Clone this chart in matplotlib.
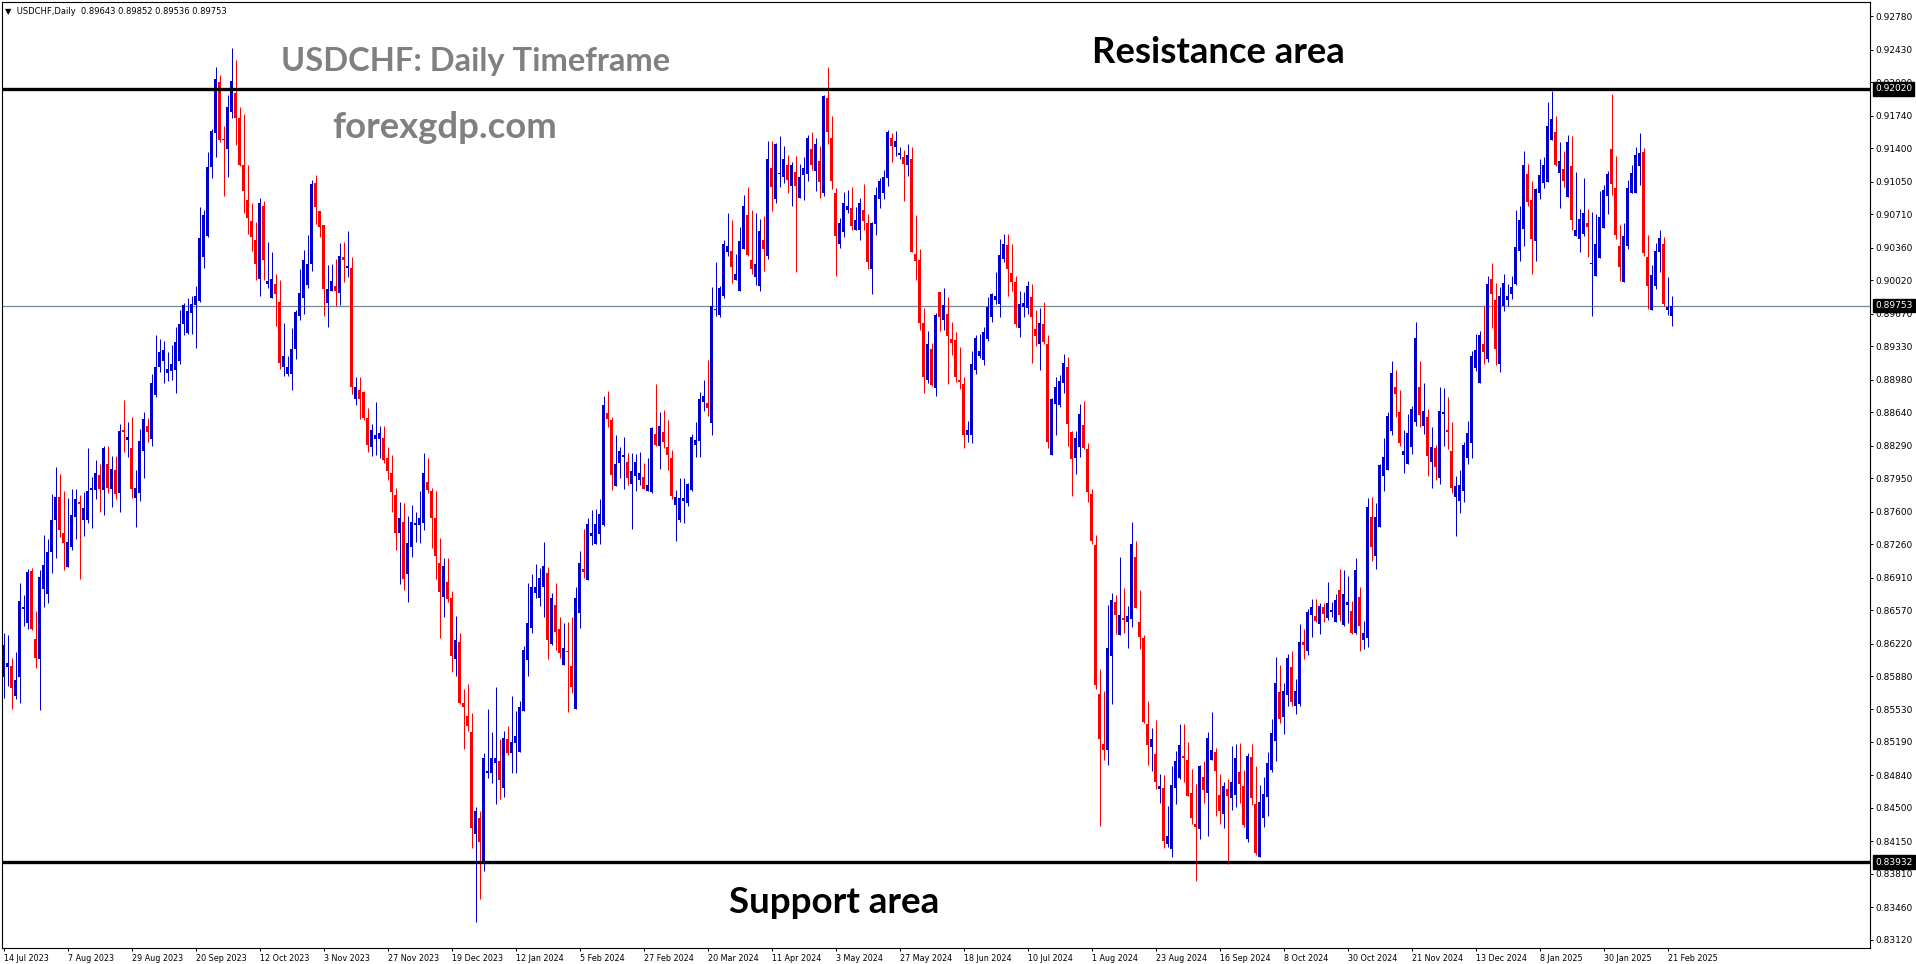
import numpy as np
import matplotlib
matplotlib.use("Agg")
import matplotlib.pyplot as plt
from matplotlib.transforms import blended_transform_factory, offset_copy

# USDCHF daily candles, 14 Jul 2023 .. 24 Feb 2025
opens = [
    0.8587, 0.8597, 0.8598, 0.8567, 0.8587, 0.8658, 0.8643, 0.8698, 0.8627, 0.8606,
    0.8679, 0.8674, 0.8718, 0.8751, 0.8775, 0.8738, 0.8702, 0.8723, 0.8754, 0.8770,
    0.8751, 0.8751, 0.8783, 0.8783, 0.8798, 0.8783, 0.8810, 0.8784, 0.8804, 0.8779,
    0.8845, 0.8835, 0.8827, 0.8774, 0.8779, 0.8823, 0.8849, 0.8836, 0.8882, 0.8911,
    0.8917, 0.8905, 0.8907, 0.8908, 0.8917, 0.8956, 0.8947, 0.8968, 0.8976, 0.8980,
    0.9026, 0.9048, 0.9120, 0.9156, 0.9209, 0.9150, 0.9139, 0.9178, 0.9198, 0.9172,
    0.9123, 0.9086, 0.9064, 0.9044, 0.9003, 0.9080, 0.8998, 0.8983, 0.8998, 0.8979,
    0.8911, 0.8904, 0.8904, 0.8930, 0.8965, 0.8983, 0.8997, 0.9019, 0.9104, 0.9074,
    0.9060, 0.8978, 0.8991, 0.8996, 0.8989, 0.9026, 0.9015, 0.9015, 0.8878, 0.8887,
    0.8885, 0.8858, 0.8828, 0.8836, 0.8836, 0.8837, 0.8816, 0.8800, 0.8777, 0.8738,
    0.8749, 0.8695, 0.8723, 0.8746, 0.8746, 0.8748, 0.8791, 0.8781, 0.8753, 0.8706,
    0.8671, 0.8686, 0.8670, 0.8606, 0.8624, 0.8560, 0.8546, 0.8529, 0.8423, 0.8440,
    0.8395, 0.8487, 0.8487, 0.8497, 0.8499, 0.8471, 0.8522, 0.8507, 0.8518, 0.8508,
    0.8551, 0.8605, 0.8638, 0.8675, 0.8670, 0.8681, 0.8696, 0.8622, 0.8662, 0.8637,
    0.8600, 0.8614, 0.8598, 0.8554, 0.8654, 0.8700, 0.8688, 0.8734, 0.8726, 0.8737,
    0.8746, 0.8863, 0.8856, 0.8787, 0.8811, 0.8817, 0.8812, 0.8789, 0.8797, 0.8793,
    0.8796, 0.8781, 0.8780, 0.8841, 0.8829, 0.8843, 0.8828, 0.8816, 0.8767, 0.8751,
    0.8771, 0.8769, 0.8783, 0.8830, 0.8834, 0.8875, 0.8874, 0.8853, 0.8971, 0.8966,
    0.8986, 0.9032, 0.9033, 0.9002, 0.8991, 0.9035, 0.9070, 0.9023, 0.9005, 0.8996,
    0.9044, 0.9027, 0.9119, 0.9087, 0.9113, 0.9110, 0.9122, 0.9101, 0.9115, 0.9088,
    0.9112, 0.9113, 0.9139, 0.9116, 0.9127, 0.9093, 0.9193, 0.9151, 0.9093, 0.9040,
    0.9052, 0.9075, 0.9078, 0.9054, 0.9054, 0.9075, 0.9062, 0.9014, 0.9061, 0.9087,
    0.9093, 0.9109, 0.9151, 0.9141, 0.9133, 0.9131, 0.9122, 0.9129, 0.9029, 0.9023,
    0.8957, 0.8898, 0.8930, 0.8889, 0.8990, 0.8960, 0.8967, 0.8940, 0.8939, 0.8898,
    0.8893, 0.8840, 0.8840, 0.8908, 0.8923, 0.8919, 0.8940, 0.8963, 0.8981, 0.8977,
    0.9024, 0.9039, 0.9010, 0.9000, 0.8952, 0.8974, 0.8973, 0.8984, 0.8951, 0.8935,
    0.8956, 0.8935, 0.8819, 0.8872, 0.8871, 0.8894, 0.8911, 0.8843, 0.8816, 0.8828,
    0.8851, 0.8825, 0.8778, 0.8725, 0.8569, 0.8517, 0.8511, 0.8609, 0.8665, 0.8631,
    0.8649, 0.8645, 0.8648, 0.8712, 0.8644, 0.8628, 0.8538, 0.8514, 0.8506, 0.8470,
    0.8471, 0.8412, 0.8407, 0.8471, 0.8481, 0.8504, 0.8500, 0.8466, 0.8433, 0.8428,
    0.8482, 0.8466, 0.8500, 0.8509, 0.8464, 0.8444, 0.8470, 0.8460, 0.8464, 0.8488,
    0.8473, 0.8417, 0.8503, 0.8454, 0.8399, 0.8440, 0.8461, 0.8490, 0.8520, 0.8571,
    0.8545, 0.8568, 0.8597, 0.8557, 0.8559, 0.8624, 0.8614, 0.8652, 0.8651, 0.8642,
    0.8660, 0.8649, 0.8655, 0.8645, 0.8678, 0.8641, 0.8662, 0.8656, 0.8633, 0.8671,
    0.8626, 0.8628, 0.8754, 0.8714, 0.8744, 0.8797, 0.8803, 0.8844, 0.8890, 0.8864,
    0.8819, 0.8810, 0.8828, 0.8854, 0.8890, 0.8849, 0.8859, 0.8812, 0.8827, 0.8795,
    0.8862, 0.8845, 0.8823, 0.8775, 0.8771, 0.8782, 0.8816, 0.8832, 0.8910, 0.8895,
    0.8935, 0.8920, 0.9003, 0.8981, 0.8914, 0.8975, 0.8981, 0.8988, 0.8998, 0.9033,
    0.9056, 0.9113, 0.9086, 0.9043, 0.9093, 0.9104, 0.9105, 0.9149, 0.9157, 0.9114,
    0.9118, 0.9089, 0.9121, 0.9048, 0.9045, 0.9050, 0.9062, 0.9019, 0.9006, 0.9025,
    0.9057, 0.9090, 0.9139, 0.9098, 0.9038, 0.9000, 0.9038, 0.9093, 0.9093, 0.9121,
    0.9136, 0.9026, 0.8971, 0.8996, 0.9032, 0.9040, 0.8971, 0.89643,
]
highs = [
    0.8633, 0.8631, 0.8607, 0.8613, 0.8685, 0.8673, 0.8700, 0.8701, 0.8656, 0.8699,
    0.8736, 0.8731, 0.8778, 0.8807, 0.8799, 0.8782, 0.8774, 0.8784, 0.8784, 0.8777,
    0.8780, 0.8827, 0.8796, 0.8814, 0.8810, 0.8829, 0.8829, 0.8818, 0.8818, 0.8852,
    0.8877, 0.8854, 0.8859, 0.8803, 0.8846, 0.8864, 0.8858, 0.8904, 0.8945, 0.8940,
    0.8938, 0.8927, 0.8934, 0.8953, 0.8971, 0.8978, 0.8983, 0.8985, 0.8996, 0.9079,
    0.9075, 0.9136, 0.9160, 0.9225, 0.9217, 0.9163, 0.9196, 0.9245, 0.9232, 0.9183,
    0.9176, 0.9123, 0.9083, 0.9063, 0.9088, 0.9085, 0.9042, 0.9032, 0.9008, 0.9002,
    0.8957, 0.8923, 0.8952, 0.8971, 0.9014, 0.9034, 0.9049, 0.9107, 0.9112, 0.9074,
    0.9060, 0.9018, 0.9019, 0.9024, 0.9041, 0.9042, 0.9053, 0.9026, 0.8901, 0.8901,
    0.8886, 0.8868, 0.8852, 0.8875, 0.8850, 0.8850, 0.8828, 0.8819, 0.8785, 0.8770,
    0.8769, 0.8755, 0.8767, 0.8760, 0.8782, 0.8821, 0.8816, 0.8785, 0.8781, 0.8732,
    0.8711, 0.8711, 0.8677, 0.8651, 0.8633, 0.8574, 0.8580, 0.8549, 0.8451, 0.8447,
    0.8507, 0.8554, 0.8529, 0.8577, 0.8522, 0.8531, 0.8536, 0.8567, 0.8551, 0.8562,
    0.8619, 0.8685, 0.8695, 0.8705, 0.8701, 0.8728, 0.8702, 0.8675, 0.8685, 0.8650,
    0.8643, 0.8644, 0.8650, 0.8681, 0.8719, 0.8742, 0.8753, 0.8762, 0.8763, 0.8773,
    0.8881, 0.8886, 0.8859, 0.8840, 0.8828, 0.8838, 0.8821, 0.8821, 0.8820, 0.8822,
    0.8811, 0.8816, 0.8848, 0.8893, 0.8864, 0.8866, 0.8856, 0.8824, 0.8783, 0.8795,
    0.8795, 0.8790, 0.8841, 0.8854, 0.8885, 0.8898, 0.8919, 0.8995, 0.9021, 0.8996,
    0.9044, 0.9072, 0.9065, 0.9029, 0.9058, 0.9091, 0.9100, 0.9075, 0.9072, 0.9066,
    0.9069, 0.9148, 0.9148, 0.9146, 0.9153, 0.9142, 0.9133, 0.9126, 0.9132, 0.9124,
    0.9131, 0.9154, 0.9157, 0.9151, 0.9142, 0.9196, 0.9225, 0.9174, 0.9098, 0.9067,
    0.9094, 0.9096, 0.9100, 0.9079, 0.9088, 0.9103, 0.9071, 0.9063, 0.9099, 0.9109,
    0.9117, 0.9159, 0.9156, 0.9158, 0.9141, 0.9138, 0.9144, 0.9141, 0.9070, 0.9035,
    0.8973, 0.8949, 0.8936, 0.8968, 0.8990, 0.8994, 0.8984, 0.8958, 0.8948, 0.8932,
    0.8901, 0.8855, 0.8928, 0.8945, 0.8946, 0.8953, 0.8984, 0.8989, 0.9011, 0.9045,
    0.9050, 0.9050, 0.9040, 0.9006, 0.8991, 0.8990, 0.9001, 0.8998, 0.8971, 0.8973,
    0.8979, 0.8945, 0.8879, 0.8901, 0.8903, 0.8925, 0.8922, 0.8844, 0.8844, 0.8872,
    0.8876, 0.8832, 0.8784, 0.8735, 0.8595, 0.8572, 0.8662, 0.8675, 0.8673, 0.8712,
    0.8680, 0.8661, 0.8749, 0.8729, 0.8678, 0.8631, 0.8562, 0.8534, 0.8542, 0.8486,
    0.8484, 0.8452, 0.8494, 0.8510, 0.8538, 0.8538, 0.8519, 0.8491, 0.8475, 0.8495,
    0.8499, 0.8529, 0.8550, 0.8513, 0.8486, 0.8477, 0.8480, 0.8515, 0.8517, 0.8518,
    0.8490, 0.8507, 0.8517, 0.8494, 0.8474, 0.8482, 0.8509, 0.8543, 0.8608, 0.8599,
    0.8581, 0.8611, 0.8614, 0.8585, 0.8642, 0.8637, 0.8658, 0.8669, 0.8669, 0.8664,
    0.8664, 0.8686, 0.8665, 0.8674, 0.8700, 0.8699, 0.8693, 0.8666, 0.8711, 0.8681,
    0.8646, 0.8774, 0.8775, 0.8769, 0.8810, 0.8837, 0.8864, 0.8918, 0.8908, 0.8887,
    0.8845, 0.8862, 0.8870, 0.8958, 0.8917, 0.8894, 0.8867, 0.8848, 0.8830, 0.8890,
    0.8889, 0.8880, 0.8854, 0.8797, 0.8804, 0.8833, 0.8855, 0.8928, 0.8946, 0.8949,
    0.8975, 0.9006, 0.9020, 0.8999, 0.8995, 0.9008, 0.8998, 0.9006, 0.9075, 0.9080,
    0.9137, 0.9124, 0.9106, 0.9098, 0.9129, 0.9131, 0.9188, 0.9200, 0.9174, 0.9147,
    0.9137, 0.9154, 0.9153, 0.9115, 0.9076, 0.9109, 0.9077, 0.9073, 0.9071, 0.9095,
    0.9102, 0.9116, 0.9197, 0.9132, 0.9060, 0.9062, 0.9107, 0.9122, 0.9141, 0.9156,
    0.9140, 0.9049, 0.9018, 0.9041, 0.9055, 0.9047, 0.9005, 0.89852,
]
lows = [
    0.8565, 0.8578, 0.8554, 0.8564, 0.8560, 0.8640, 0.8637, 0.8636, 0.8596, 0.8552,
    0.8660, 0.8664, 0.8696, 0.8711, 0.8733, 0.8699, 0.8702, 0.8720, 0.8731, 0.8689,
    0.8734, 0.8748, 0.8743, 0.8773, 0.8760, 0.8756, 0.8779, 0.8765, 0.8773, 0.8760,
    0.8822, 0.8817, 0.8774, 0.8744, 0.8771, 0.8795, 0.8833, 0.8829, 0.8880, 0.8906,
    0.8895, 0.8897, 0.8898, 0.8884, 0.8914, 0.8945, 0.8946, 0.8946, 0.8931, 0.8979,
    0.9015, 0.9047, 0.9109, 0.9131, 0.9147, 0.9090, 0.9110, 0.9172, 0.9143, 0.9121,
    0.9072, 0.9050, 0.9033, 0.9002, 0.8986, 0.9002, 0.8994, 0.8983, 0.8954, 0.8909,
    0.8902, 0.8902, 0.8887, 0.8920, 0.8960, 0.8967, 0.8994, 0.9012, 0.9061, 0.9047,
    0.8965, 0.8953, 0.8991, 0.8975, 0.8976, 0.9000, 0.9005, 0.8883, 0.8871, 0.8857,
    0.8856, 0.8822, 0.8818, 0.8819, 0.8816, 0.8811, 0.8793, 0.8760, 0.8720, 0.8684,
    0.8678, 0.8665, 0.8713, 0.8728, 0.8727, 0.8741, 0.8779, 0.8722, 0.8689, 0.8628,
    0.8650, 0.8665, 0.8592, 0.8588, 0.8559, 0.8512, 0.8530, 0.8408, 0.8331, 0.8355,
    0.8384, 0.8481, 0.8476, 0.8454, 0.8459, 0.8461, 0.8505, 0.8487, 0.8487, 0.8508,
    0.8551, 0.8588, 0.8633, 0.8670, 0.8661, 0.8650, 0.8606, 0.8620, 0.8615, 0.8607,
    0.8600, 0.8550, 0.8570, 0.8553, 0.8638, 0.8690, 0.8688, 0.8725, 0.8726, 0.8726,
    0.8745, 0.8848, 0.8783, 0.8787, 0.8795, 0.8784, 0.8788, 0.8742, 0.8781, 0.8788,
    0.8784, 0.8781, 0.8779, 0.8829, 0.8805, 0.8826, 0.8804, 0.8773, 0.8729, 0.8749,
    0.8748, 0.8766, 0.8782, 0.8817, 0.8817, 0.8865, 0.8860, 0.8840, 0.8965, 0.8964,
    0.8983, 0.9027, 0.8999, 0.9002, 0.8991, 0.9035, 0.9027, 0.9009, 0.8997, 0.8991,
    0.9012, 0.9024, 0.9074, 0.9083, 0.9099, 0.9104, 0.9093, 0.9080, 0.9011, 0.9088,
    0.9086, 0.9106, 0.9117, 0.9095, 0.9088, 0.9090, 0.9144, 0.9097, 0.9006, 0.9036,
    0.9047, 0.9072, 0.9055, 0.9054, 0.9044, 0.9054, 0.9014, 0.8988, 0.9049, 0.9078,
    0.9087, 0.9101, 0.9126, 0.9132, 0.9129, 0.9085, 0.9111, 0.9031, 0.9002, 0.8950,
    0.8884, 0.8894, 0.8891, 0.8881, 0.8949, 0.8950, 0.8893, 0.8924, 0.8896, 0.8888,
    0.8827, 0.8833, 0.8832, 0.8904, 0.8921, 0.8913, 0.8938, 0.8958, 0.8977, 0.8963,
    0.9021, 0.8985, 0.8991, 0.8953, 0.8943, 0.8963, 0.8967, 0.8915, 0.8933, 0.8908,
    0.8935, 0.8827, 0.8819, 0.8840, 0.8869, 0.8884, 0.8829, 0.8776, 0.8799, 0.8817,
    0.8825, 0.8770, 0.8726, 0.8574, 0.8431, 0.8500, 0.8495, 0.8559, 0.8632, 0.8631,
    0.8633, 0.8617, 0.8639, 0.8659, 0.8616, 0.8539, 0.8495, 0.8489, 0.8470, 0.8455,
    0.8408, 0.8409, 0.8399, 0.8454, 0.8480, 0.8477, 0.8463, 0.8433, 0.8374, 0.8417,
    0.8455, 0.8421, 0.8500, 0.8442, 0.8433, 0.8429, 0.8391, 0.8448, 0.8451, 0.8455,
    0.8430, 0.8414, 0.8453, 0.8401, 0.8399, 0.8430, 0.8442, 0.8488, 0.8499, 0.8539,
    0.8527, 0.8557, 0.8557, 0.8548, 0.8557, 0.8606, 0.8610, 0.8629, 0.8645, 0.8632,
    0.8645, 0.8647, 0.8650, 0.8644, 0.8646, 0.8640, 0.8643, 0.8632, 0.8632, 0.8614,
    0.8616, 0.8618, 0.8708, 0.8700, 0.8744, 0.8781, 0.8803, 0.8840, 0.8859, 0.8829,
    0.8800, 0.8810, 0.8820, 0.8850, 0.8848, 0.8841, 0.8797, 0.8785, 0.8793, 0.8789,
    0.8829, 0.8825, 0.8779, 0.8734, 0.8759, 0.8770, 0.8810, 0.8816, 0.8907, 0.8895,
    0.8914, 0.8916, 0.8952, 0.8913, 0.8906, 0.8970, 0.8975, 0.8982, 0.8997, 0.9022,
    0.9038, 0.9080, 0.9008, 0.9022, 0.9087, 0.9098, 0.9105, 0.9149, 0.9121, 0.9078,
    0.9100, 0.9089, 0.9055, 0.9048, 0.9032, 0.9048, 0.9026, 0.8965, 0.9006, 0.9025,
    0.9057, 0.9071, 0.9091, 0.9045, 0.9001, 0.9000, 0.9035, 0.9093, 0.9093, 0.9102,
    0.9027, 0.8972, 0.8971, 0.8993, 0.9011, 0.8975, 0.8966, 0.89536,
]
closes = [
    0.8620, 0.8602, 0.8575, 0.8584, 0.8666, 0.8660, 0.8697, 0.8637, 0.8607, 0.8692,
    0.8704, 0.8718, 0.8751, 0.8775, 0.8741, 0.8727, 0.8728, 0.8756, 0.8773, 0.8768,
    0.8764, 0.8781, 0.8785, 0.8800, 0.8784, 0.8827, 0.8785, 0.8805, 0.8778, 0.8844,
    0.8843, 0.8838, 0.8784, 0.8785, 0.8834, 0.8857, 0.8843, 0.8894, 0.8911, 0.8927,
    0.8929, 0.8909, 0.8914, 0.8937, 0.8956, 0.8976, 0.8970, 0.8977, 0.8986, 0.9046,
    0.9070, 0.9120, 0.9158, 0.9212, 0.9149, 0.9149, 0.9183, 0.9210, 0.9172, 0.9123,
    0.9095, 0.9067, 0.9047, 0.9019, 0.9083, 0.9023, 0.9001, 0.9003, 0.8988, 0.8915,
    0.8923, 0.8911, 0.8930, 0.8969, 0.8989, 0.9023, 0.9019, 0.9103, 0.9079, 0.9058,
    0.8993, 0.8993, 0.9001, 0.8991, 0.9027, 0.9023, 0.9017, 0.8890, 0.8890, 0.8878,
    0.8858, 0.8830, 0.8845, 0.8840, 0.8842, 0.8814, 0.8802, 0.8780, 0.8738, 0.8753,
    0.8689, 0.8727, 0.8749, 0.8748, 0.8753, 0.8800, 0.8783, 0.8753, 0.8714, 0.8676,
    0.8703, 0.8669, 0.8609, 0.8626, 0.8560, 0.8556, 0.8536, 0.8429, 0.8447, 0.8414,
    0.8502, 0.8489, 0.8502, 0.8502, 0.8479, 0.8523, 0.8507, 0.8519, 0.8525, 0.8556,
    0.8615, 0.8643, 0.8681, 0.8681, 0.8691, 0.8703, 0.8626, 0.8670, 0.8634, 0.8612,
    0.8617, 0.8613, 0.8577, 0.8670, 0.8706, 0.8697, 0.8747, 0.8738, 0.8747, 0.8757,
    0.8871, 0.8857, 0.8798, 0.8810, 0.8823, 0.8819, 0.8795, 0.8802, 0.8812, 0.8800,
    0.8784, 0.8788, 0.8847, 0.8830, 0.8849, 0.8833, 0.8819, 0.8776, 0.8775, 0.8774,
    0.8774, 0.8789, 0.8838, 0.8835, 0.8878, 0.8881, 0.8868, 0.8975, 0.8972, 0.8994,
    0.9040, 0.9038, 0.9016, 0.9008, 0.9043, 0.9080, 0.9028, 0.9014, 0.9019, 0.9053,
    0.9035, 0.9129, 0.9099, 0.9144, 0.9114, 0.9129, 0.9107, 0.9123, 0.9101, 0.9110,
    0.9119, 0.9151, 0.9122, 0.9144, 0.9105, 0.9195, 0.9157, 0.9106, 0.9048, 0.9062,
    0.9083, 0.9080, 0.9059, 0.9065, 0.9083, 0.9064, 0.9021, 0.9062, 0.9091, 0.9106,
    0.9110, 0.9157, 0.9142, 0.9148, 0.9135, 0.9124, 0.9133, 0.9032, 0.9022, 0.8957,
    0.8901, 0.8935, 0.8892, 0.8966, 0.8964, 0.8976, 0.8944, 0.8936, 0.8901, 0.8896,
    0.8840, 0.8845, 0.8914, 0.8942, 0.8928, 0.8948, 0.8974, 0.8988, 0.8986, 0.9028,
    0.9040, 0.9014, 0.9000, 0.8956, 0.8977, 0.8978, 0.8996, 0.8964, 0.8944, 0.8957,
    0.8937, 0.8833, 0.8878, 0.8890, 0.8897, 0.8915, 0.8852, 0.8815, 0.8837, 0.8862,
    0.8827, 0.8780, 0.8729, 0.8579, 0.8522, 0.8511, 0.8617, 0.8667, 0.8652, 0.8652,
    0.8647, 0.8651, 0.8726, 0.8659, 0.8629, 0.8540, 0.8516, 0.8522, 0.8477, 0.8473,
    0.8415, 0.8421, 0.8474, 0.8499, 0.8516, 0.8502, 0.8463, 0.8440, 0.8430, 0.8494,
    0.8469, 0.8523, 0.8511, 0.8489, 0.8447, 0.8473, 0.8462, 0.8477, 0.8502, 0.8475,
    0.8432, 0.8504, 0.8460, 0.8403, 0.8456, 0.8465, 0.8497, 0.8528, 0.8581, 0.8543,
    0.8572, 0.8607, 0.8561, 0.8572, 0.8624, 0.8620, 0.8655, 0.8660, 0.8646, 0.8661,
    0.8653, 0.8664, 0.8657, 0.8667, 0.8652, 0.8674, 0.8665, 0.8633, 0.8699, 0.8640,
    0.8633, 0.8765, 0.8723, 0.8754, 0.8809, 0.8817, 0.8860, 0.8905, 0.8883, 0.8832,
    0.8823, 0.8842, 0.8867, 0.8942, 0.8861, 0.8865, 0.8818, 0.8828, 0.8807, 0.8865,
    0.8864, 0.8843, 0.8785, 0.8787, 0.8788, 0.8830, 0.8842, 0.8923, 0.8929, 0.8945,
    0.8927, 0.8998, 0.8988, 0.8930, 0.8986, 0.8999, 0.8986, 0.8995, 0.9037, 0.9065,
    0.9122, 0.9084, 0.9045, 0.9097, 0.9112, 0.9122, 0.9163, 0.9171, 0.9122, 0.9127,
    0.9106, 0.9147, 0.9065, 0.9054, 0.9066, 0.9072, 0.9058, 0.9020, 0.9040, 0.9068,
    0.9096, 0.9113, 0.9103, 0.9049, 0.9016, 0.9048, 0.9098, 0.9114, 0.9133, 0.9135,
    0.9030, 0.8996, 0.9007, 0.9033, 0.9046, 0.8977, 0.8974, 0.89753,
]

date_labels = [
    "14 Jul 2023", "7 Aug 2023", "29 Aug 2023", "20 Sep 2023", "12 Oct 2023",
    "3 Nov 2023", "27 Nov 2023", "19 Dec 2023", "12 Jan 2024", "5 Feb 2024",
    "27 Feb 2024", "20 Mar 2024", "11 Apr 2024", "3 May 2024", "27 May 2024",
    "18 Jun 2024", "10 Jul 2024", "1 Aug 2024", "23 Aug 2024", "16 Sep 2024",
    "8 Oct 2024", "30 Oct 2024", "21 Nov 2024", "13 Dec 2024", "8 Jan 2025",
    "30 Jan 2025", "21 Feb 2025",
]
date_bars = list(range(0, 16 * len(date_labels), 16))

price_ticks = [
    0.92780, 0.92430, 0.92090, 0.91740, 0.91400, 0.91050, 0.90710, 0.90360,
    0.90020, 0.89670, 0.89330, 0.88980, 0.88640, 0.88290, 0.87950, 0.87600,
    0.87260, 0.86910, 0.86570, 0.86220, 0.85880, 0.85530, 0.85190, 0.84840,
    0.84500, 0.84150, 0.83810, 0.83460, 0.83120,
]

resistance = 0.92020
support = 0.83932
last_price = 0.89753
header = "USDCHF,Daily  0.89643 0.89852 0.89536 0.89753"

BULL = "#0000cd"
BEAR = "#ff0000"
W, H = 1916, 964


def fx(px):
    return px / W


def fy(py):
    return 1 - py / H


o = np.array(opens)
h = np.array(highs)
l = np.array(lows)
c = np.array(closes)
x = np.arange(len(c))
colors = np.where(c >= o, BULL, BEAR)

fig = plt.figure(figsize=(W / 100, H / 100), dpi=100)
fig.patch.set_facecolor("white")
ax = fig.add_axes([fx(2), 16 / H, (1870 - 2) / W, (948 - 2) / H])
ax.set_xlim(-0.375, 466.6)
ax.set_ylim(0.83035, 0.92930)

# current price line, behind candles
ax.axhline(last_price, color="#778899", lw=0.9, zorder=1)

# bar centres fall on pixel centres, so 1 px wicks and 3 px bodies stay sharp
ax.vlines(x, l, h, colors=colors, lw=0.72, zorder=2)
body_low = np.minimum(o, c)
body_h = np.maximum(np.abs(c - o), 0.00009)
ax.bar(x, body_h, width=0.8, bottom=body_low, color=colors, lw=0, zorder=2)

for lvl in (resistance, support):
    ax.axhline(lvl, color="black", lw=2.4, zorder=3)

# axes look
for s in ax.spines.values():
    s.set_linewidth(0.8)
    s.set_color("black")
ax.yaxis.tick_right()
ax.set_yticks(price_ticks)
ax.set_yticklabels([f"{v:.5f}" for v in price_ticks])
ax.tick_params(axis="y", direction="out", length=2.2, width=0.7, pad=1.5,
               labelsize=6.5, colors="black")
ax.set_xticks(date_bars)
ax.set_xticklabels(date_labels, ha="left")
ax.tick_params(axis="x", direction="out", length=2.5, width=0.7, pad=1.5,
               labelsize=5.8, colors="black")

# highlighted price labels on the right scale
trans = offset_copy(blended_transform_factory(ax.transAxes, ax.transData),
                    fig=fig, x=5, y=0, units="dots")
for lvl in (resistance, last_price, support):
    ax.text(1.0, lvl, f"{lvl:.5f}", transform=trans, ha="left", va="center",
            fontsize=6.5, color="white", clip_on=False, zorder=10,
            bbox=dict(boxstyle="square,pad=0.25", fc="black", ec="black"))

# chart header and annotations
fig.text(fx(5), fy(11), "\u25bc  " + header, fontsize=6, color="black",
         va="center", ha="left")
fig.text(fx(281), fy(71), "USDCHF: Daily Timeframe", fontsize=23.5,
         fontweight="bold", family="Lato", color="#808080", va="baseline")
fig.text(fx(332), fy(138), "forexgdp.com", fontsize=26.3,
         fontweight="bold", family="Lato", color="#808080", va="baseline")
fig.text(fx(1092), fy(63), "Resistance area", fontsize=26.3,
         fontweight="bold", family="Lato", color="black", va="baseline")
fig.text(fx(729), fy(913), "Support area", fontsize=26.5,
         fontweight="bold", family="Lato", color="black", va="baseline")

fig.savefig("out.png", dpi=100)
